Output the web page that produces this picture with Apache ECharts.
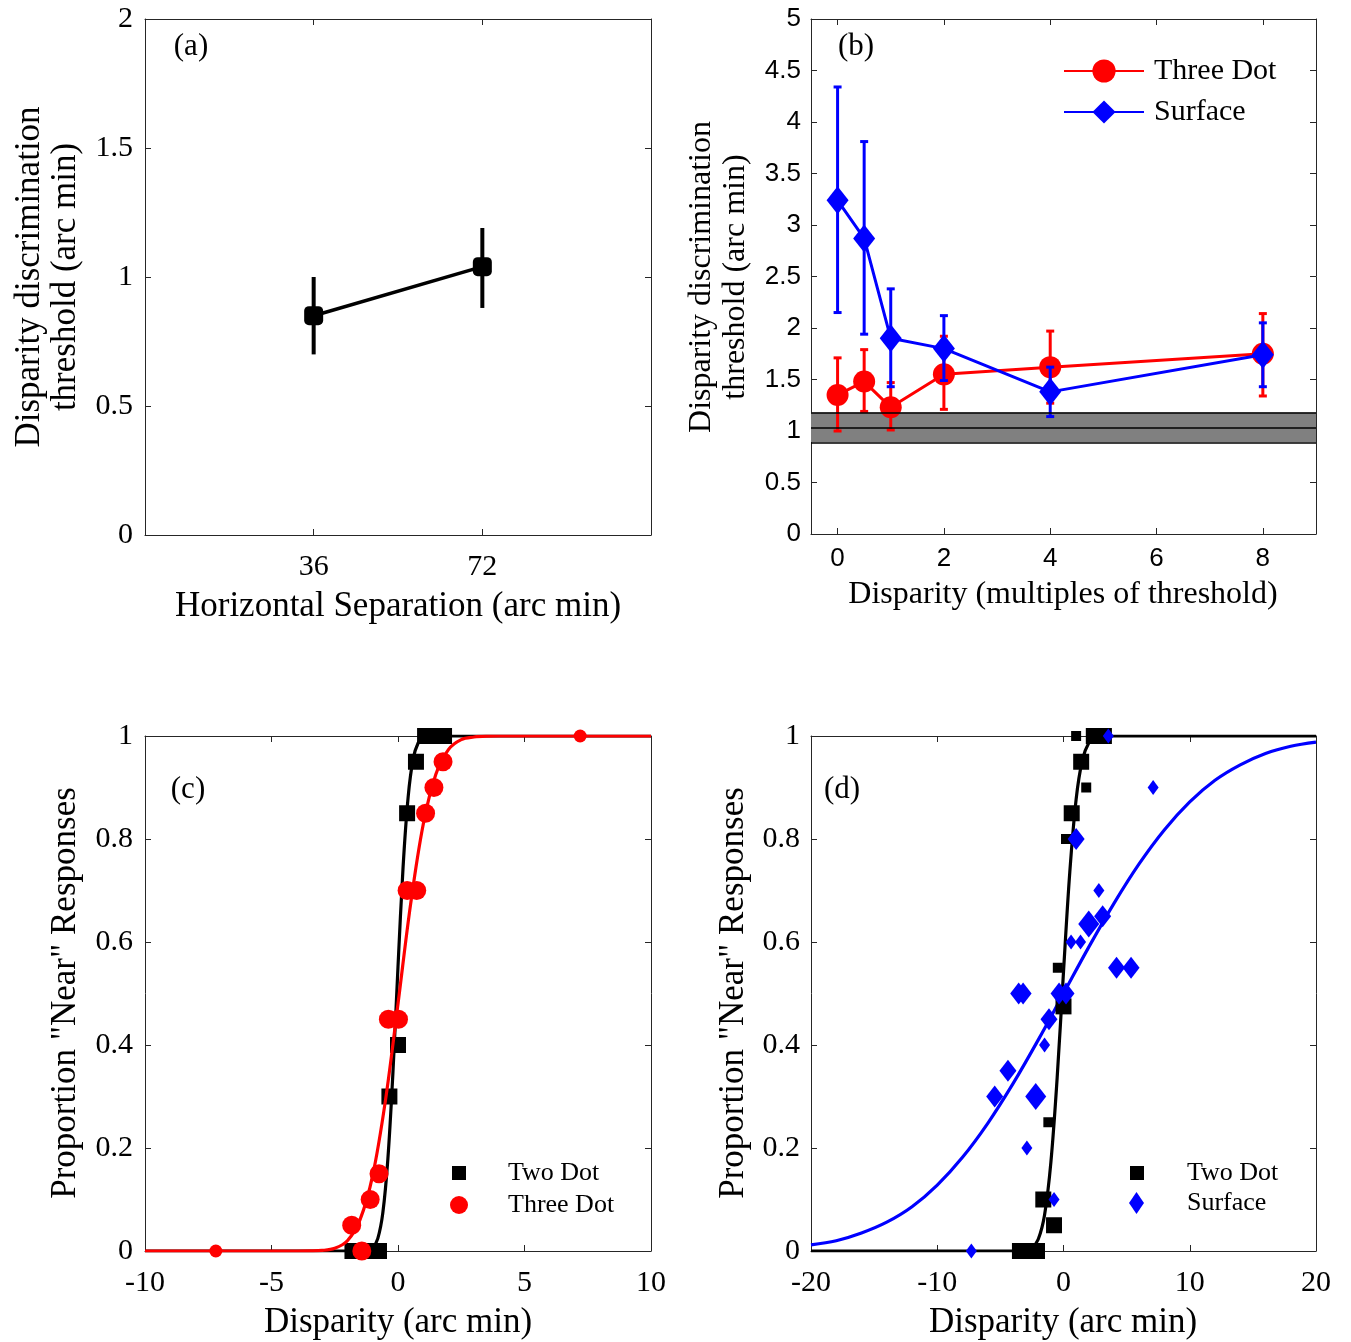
<!DOCTYPE html>
<html><head><meta charset="utf-8">
<script src="https://cdn.jsdelivr.net/npm/echarts@6/dist/echarts.min.js"></script>
<style>html,body{margin:0;padding:0;background:#fff}#c{width:1351px;height:1342px}</style>
</head><body><div id="c"></div>
<script>
// ---------- Panel (a) ----------
const separations = [36, 72];
const twoDotThresh = [0.85, 1.04];
const twoDotThreshLo = [0.70, 0.88];
const twoDotThreshHi = [1.00, 1.19];
const ticksAX = [36, 72];
const ticksAY = [0, 0.5, 1, 1.5, 2];

// ---------- Panel (b) ----------
const multiples = [0, 0.5, 1, 2, 4, 8];
const threeDotThresh = [1.35, 1.48, 1.23, 1.55, 1.62, 1.75];
const threeDotLo = [1.00, 1.19, 1.01, 1.21, 1.27, 1.34];
const threeDotHi = [1.71, 1.79, 1.47, 1.92, 1.97, 2.14];
const surfaceThresh = [3.24, 2.87, 1.90, 1.80, 1.38, 1.74];
const surfaceLo = [2.15, 1.94, 1.43, 1.49, 1.14, 1.43];
const surfaceHi = [4.34, 3.81, 2.38, 2.12, 1.62, 2.05];
const twoDotBand = [0.89, 1.03, 1.18]; // lower, mean, upper
const ticksBX = [0, 2, 4, 6, 8];
const ticksBY = [0, 0.5, 1, 1.5, 2, 2.5, 3, 3.5, 4, 4.5, 5];

// ---------- Panel (c) ----------
// [disparity, proportion near, weight]
const twoDotC = [[-1.8,0],[-1.3,0],[-0.75,0],[-0.34,0.3],[0,0.4],[0.36,0.85],[0.71,0.95],[1.07,1],[1.45,1],[1.82,1]];
const threeDotC = [[-7.2,0,1],[-1.43,0,2],[-1.83,0.05,2],[-1.1,0.1,2],[-0.75,0.15,2],[-0.38,0.45,2],[0.02,0.45,2],[0.36,0.7,2],[0.74,0.7,2],[1.09,0.85,2],[1.42,0.9,2],[1.78,0.95,2],[7.2,1,1]];
const twoDotFitC = [[-10,0],[-1.6,0],[-1.4,0.0002],[-1.2,0.0012],[-1.0,0.006],[-0.8,0.024],[-0.6,0.074],[-0.4,0.179],[-0.2,0.347],[0,0.552],[0.2,0.745],[0.4,0.881],[0.6,0.956],[0.8,0.987],[1.0,0.997],[1.2,0.9995],[1.4,1],[10,1]];
const threeDotFitC = [[-10,0],[-4,0],[-3.5,0.0002],[-3,0.0011],[-2.5,0.0054],[-2,0.020],[-1.5,0.061],[-1,0.147],[-0.5,0.291],[0,0.480],[0.5,0.674],[1,0.829],[1.5,0.926],[2,0.974],[2.5,0.993],[3,0.998],[3.5,0.9997],[4,1],[10,1]];
const ticksCX = [-10, -5, 0, 5, 10];
const ticksCY = [0, 0.2, 0.4, 0.6, 0.8, 1];

// ---------- Panel (d) ----------
const twoDotD = [[-3.45,0,2],[-2.8,0,2],[-2.1,0,2],[-1.6,0.1,2],[-0.75,0.05,2],[-1.2,0.25,1],[-0.45,0.55,1],[0,0.475,2],[0.2,0.8,1],[0.65,0.85,2],[1.4,0.95,2],[1.8,0.9,1],[1.0,1,1],[2.4,1,2],[3.2,1,2]];
const surfaceD = [[-7.3,0,1],[-0.75,0.1,1],[-2.9,0.2,1],[-5.45,0.3,2],[-2.2,0.3,3],[-4.4,0.35,2],[-1.5,0.4,1],[-1.15,0.45,2],[-3.55,0.5,2],[-3.2,0.5,2],[-0.35,0.5,2],[0.2,0.5,2],[4.2,0.55,2],[5.35,0.55,2],[0.6,0.6,1],[1.35,0.6,1],[2.0,0.635,3],[3.1,0.65,2],[2.8,0.7,1],[1.0,0.8,2],[7.1,0.9,1],[3.55,1,1]];
const twoDotFitD = [[-20,0],[-4,0],[-3.5,0.0002],[-3,0.0011],[-2.5,0.0058],[-2,0.0228],[-1.5,0.070],[-1,0.172],[-0.5,0.337],[0,0.542],[0.5,0.736],[1,0.877],[1.5,0.954],[2,0.9865],[2.5,0.997],[3,0.9995],[3.5,1],[20,1]];
const surfaceFitD = [[-20,0.012],[-18,0.020],[-16,0.035],[-14,0.056],[-12,0.086],[-10,0.128],[-8,0.182],[-6,0.248],[-4,0.325],[-2,0.410],[0,0.5],[2,0.590],[4,0.675],[6,0.752],[8,0.818],[10,0.872],[12,0.914],[14,0.944],[16,0.966],[18,0.980],[20,0.988]];
const ticksDX = [-20, -10, 0, 10, 20];
const ticksDY = [0, 0.2, 0.4, 0.6, 0.8, 1];

// ---------- styling ----------
const SERIF = 'Liberation Serif';
const SANS = 'Liberation Sans';
const AX = '#262626';
const RED = '#ff0000', BLUE = '#0000ff', BLACK = '#000000';

const grids = [
  {left: 145, top: 19, width: 506, height: 516},
  {left: 811, top: 19, width: 505, height: 515},
  {left: 145, top: 736, width: 506, height: 515},
  {left: 811, top: 736, width: 505, height: 515}
].map(g => Object.assign({outerBoundsMode: 'none', containLabel: false}, g));

function axis(gridIndex, position, min, max, ticks, showLabels, font, size, margin) {
  return {
    type: 'value', gridIndex, position, min, max,
    axisLine: {show: true, onZero: false, lineStyle: {color: AX, width: 1}},
    axisTick: {show: true, inside: true, length: 6, customValues: ticks, lineStyle: {color: AX, width: 1}},
    axisLabel: {show: showLabels, customValues: ticks, margin: margin, color: '#000', fontFamily: font, fontSize: size},
    splitLine: {show: false},
    axisPointer: {show: false}
  };
}

const xAxes = [
  axis(0, 'bottom', 0, 108, ticksAX, true, SERIF, 30, 17),
  axis(1, 'bottom', -0.5, 9, ticksBX, true, SANS, 26, 12),
  axis(2, 'bottom', -10, 10, ticksCX, true, SERIF, 30, 17),
  axis(3, 'bottom', -20, 20, ticksDX, true, SERIF, 30, 17),
  axis(0, 'top', 0, 108, ticksAX, false, SERIF, 30, 8),
  axis(1, 'top', -0.5, 9, ticksBX, false, SANS, 26, 8),
  axis(2, 'top', -10, 10, ticksCX, false, SERIF, 30, 8),
  axis(3, 'top', -20, 20, ticksDX, false, SERIF, 30, 8)
];
const yAxes = [
  axis(0, 'left', 0, 2, ticksAY, true, SERIF, 30, 12),
  axis(1, 'left', 0, 5, ticksBY, true, SANS, 26, 10),
  axis(2, 'left', 0, 1, ticksCY, true, SERIF, 30, 12),
  axis(3, 'left', 0, 1, ticksDY, true, SERIF, 30, 11),
  axis(0, 'right', 0, 2, ticksAY, false, SERIF, 30, 8),
  axis(1, 'right', 0, 5, ticksBY, false, SANS, 26, 8),
  axis(2, 'right', 0, 1, ticksCY, false, SERIF, 30, 8),
  axis(3, 'right', 0, 1, ticksDY, false, SERIF, 30, 8)
];

function errRender(color, lw, cap) {
  return function (params, api) {
    const x = api.value(0);
    const lo = api.coord([x, api.value(1)]);
    const hi = api.coord([x, api.value(2)]);
    const st = {stroke: color, lineWidth: lw};
    const ch = [{type: 'line', shape: {x1: lo[0], y1: lo[1], x2: hi[0], y2: hi[1]}, style: st}];
    if (cap) {
      ch.push({type: 'line', shape: {x1: lo[0] - cap, y1: lo[1], x2: lo[0] + cap, y2: lo[1]}, style: st});
      ch.push({type: 'line', shape: {x1: hi[0] - cap, y1: hi[1], x2: hi[0] + cap, y2: hi[1]}, style: st});
    }
    return {type: 'group', children: ch};
  };
}
const zip3 = (xs, a, b) => xs.map((x, i) => [x, a[i], b[i]]);
const zip2 = (xs, a) => xs.map((x, i) => [x, a[i]]);

const sqSizeD = {1: 10, 2: 16};
const dmSizeD = {1: [11, 15], 2: [17, 22], 3: [21, 27]};
const circSizeC = {1: 13, 2: 19};

function fitLine(name, xi, data, color, z) {
  return {type: 'line', name, xAxisIndex: xi, yAxisIndex: xi, z, data, showSymbol: false,
    smooth: 0.35, lineStyle: {color, width: 3.2}, itemStyle: {color}, emphasis: {disabled: true}};
}

const series = [
  // (a)
  {type: 'custom', name: 'Two Dot SE', xAxisIndex: 0, yAxisIndex: 0, z: 2,
   renderItem: errRender(BLACK, 4, 0), encode: {x: 0, y: [1, 2]},
   data: zip3(separations, twoDotThreshLo, twoDotThreshHi)},
  {type: 'line', name: 'Two Dot threshold', xAxisIndex: 0, yAxisIndex: 0, z: 3,
   data: zip2(separations, twoDotThresh), symbol: 'roundRect', symbolSize: 19, showSymbol: true,
   lineStyle: {color: BLACK, width: 3.5}, itemStyle: {color: BLACK}, emphasis: {disabled: true}},
  // (b) reference band
  {type: 'line', name: 'band', xAxisIndex: 1, yAxisIndex: 1, z: 1, data: [],
   markArea: {silent: true, itemStyle: {color: '#808080'},
     data: [[{yAxis: twoDotBand[0]}, {yAxis: twoDotBand[2]}]]},
   markLine: {silent: true, symbol: 'none', label: {show: false},
     lineStyle: {color: BLACK, width: 1.5, type: 'solid'},
     data: twoDotBand.map(v => ({yAxis: v}))}},
  {type: 'line', name: 'Three Dot', xAxisIndex: 1, yAxisIndex: 1, z: 3,
   data: zip2(multiples, threeDotThresh), symbol: 'circle', symbolSize: 22, showSymbol: true,
   lineStyle: {color: RED, width: 3}, itemStyle: {color: RED}, emphasis: {disabled: true}},
  {type: 'custom', name: 'Three Dot SE', xAxisIndex: 1, yAxisIndex: 1, z: 3,
   renderItem: errRender(RED, 3, 4), encode: {x: 0, y: [1, 2]},
   data: zip3(multiples, threeDotLo, threeDotHi)},
  {type: 'line', name: 'Surface', xAxisIndex: 1, yAxisIndex: 1, z: 4,
   data: zip2(multiples, surfaceThresh), symbol: 'diamond', symbolSize: [22, 28], showSymbol: true,
   lineStyle: {color: BLUE, width: 3}, itemStyle: {color: BLUE}, emphasis: {disabled: true}},
  {type: 'custom', name: 'Surface SE', xAxisIndex: 1, yAxisIndex: 1, z: 4,
   renderItem: errRender(BLUE, 3, 4), encode: {x: 0, y: [1, 2]},
   data: zip3(multiples, surfaceLo, surfaceHi)},
  // (c)
  fitLine('Two Dot fit c', 2, twoDotFitC, BLACK, 2),
  {type: 'scatter', name: 'Two Dot', xAxisIndex: 2, yAxisIndex: 2, z: 3,
   data: twoDotC, symbol: 'rect', symbolSize: 16, itemStyle: {color: BLACK, opacity: 1}, emphasis: {disabled: true}},
  fitLine('Three Dot fit c', 2, threeDotFitC, RED, 4),
  {type: 'scatter', name: 'Three Dot', xAxisIndex: 2, yAxisIndex: 2, z: 5,
   data: threeDotC, symbol: 'circle', symbolSize: v => circSizeC[v[2]],
   itemStyle: {color: RED, opacity: 1}, emphasis: {disabled: true}},
  // (d)
  fitLine('Two Dot fit d', 3, twoDotFitD, BLACK, 2),
  fitLine('Surface fit d', 3, surfaceFitD, BLUE, 3),
  {type: 'scatter', name: 'Two Dot', xAxisIndex: 3, yAxisIndex: 3, z: 4,
   data: twoDotD, symbol: 'rect', symbolSize: v => sqSizeD[v[2]],
   itemStyle: {color: BLACK, opacity: 1}, emphasis: {disabled: true}},
  {type: 'scatter', name: 'Surface', xAxisIndex: 3, yAxisIndex: 3, z: 5,
   data: surfaceD, symbol: 'diamond', symbolSize: v => dmSizeD[v[2]],
   itemStyle: {color: BLUE, opacity: 1}, emphasis: {disabled: true}}
];

const legendText = size => ({fontFamily: SERIF, fontSize: size, color: '#000'});
const legends = [
  {data: ['Three Dot', 'Surface'], orient: 'vertical', left: 1063, top: 56, padding: 0,
   itemWidth: 80, itemHeight: 29, itemGap: 11, selectedMode: false,
   textStyle: Object.assign(legendText(30), {padding: [0, 0, 0, 5]})},
  {data: [{name: 'Two Dot', icon: 'rect'}], left: 452, top: 1160, padding: 0, itemWidth: 14, itemHeight: 14,
   selectedMode: false, textStyle: Object.assign(legendText(26), {padding: [0, 0, 0, 37]})},
  {data: [{name: 'Three Dot', icon: 'circle'}], left: 450, top: 1192, padding: 0, itemWidth: 18, itemHeight: 18,
   selectedMode: false, textStyle: Object.assign(legendText(26), {padding: [0, 0, 0, 35]})},
  {data: [{name: 'Two Dot', icon: 'rect'}], left: 1130, top: 1160, padding: 0, itemWidth: 14, itemHeight: 14,
   selectedMode: false, textStyle: Object.assign(legendText(26), {padding: [0, 0, 0, 38]})},
  {data: [{name: 'Surface', icon: 'diamond'}], left: 1129, top: 1190, padding: 0, itemWidth: 15, itemHeight: 22,
   selectedMode: false, textStyle: Object.assign(legendText(26), {padding: [0, 0, 0, 38]})}
];

function txt(s, x, y, size, rot) {
  return {type: 'text', x, y, rotation: rot ? Math.PI / 2 : 0, silent: true, z: 10,
    style: {text: s, fontFamily: SERIF, fontSize: size, fill: '#000', textAlign: 'center', textVerticalAlign: 'middle'}};
}
const graphics = [
  txt('(a)', 191, 47, 31), txt('(b)', 856, 47, 31), txt('(c)', 188, 790, 31), txt('(d)', 842, 790, 31),
  txt('Horizontal Separation (arc min)', 398, 607, 35),
  txt('Disparity discrimination', 30, 277, 35, true),
  txt('threshold (arc min)', 66, 277, 35, true),
  txt('Disparity (multiples of threshold)', 1063, 595, 32),
  txt('Disparity discrimination', 702, 277, 32, true),
  txt('threshold (arc min)', 736, 277, 32, true),
  txt('Disparity (arc min)', 398, 1323, 35),
  txt('Proportion "Near" Responses', 66, 993, 35, true),
  txt('Disparity (arc min)', 1063, 1323, 35),
  txt('Proportion "Near" Responses', 734, 993, 35, true)
];

const chart = echarts.init(document.getElementById('c'), null, {renderer: 'canvas'});
chart.setOption({
  animation: false,
  backgroundColor: '#ffffff',
  grid: grids,
  xAxis: xAxes,
  yAxis: yAxes,
  legend: legends,
  series: series,
  graphic: graphics
});
</script></body></html>
